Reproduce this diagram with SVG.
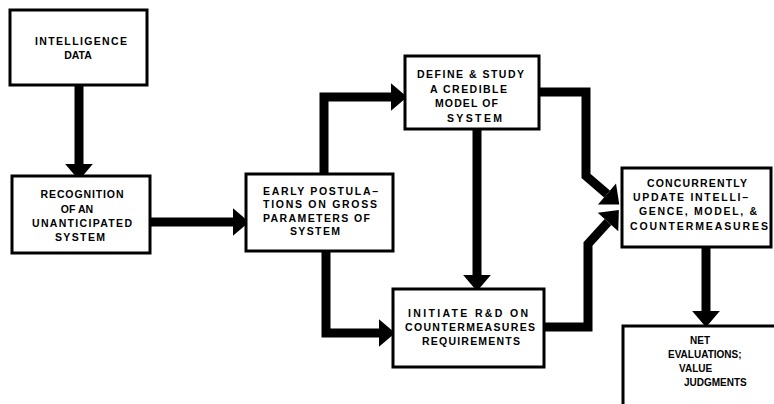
<svg xmlns="http://www.w3.org/2000/svg" width="774" height="404" viewBox="0 0 774 404">
<style>
.box{fill:#fff;stroke:#000;stroke-width:3}
.t{font-family:"Liberation Sans",Arial,sans-serif;font-weight:bold;font-size:10.5px;fill:#000}
.s{font-size:10px}
.c{text-anchor:middle}
.conn{fill:none;stroke:#000;stroke-width:9;stroke-linejoin:miter;stroke-linecap:butt}
</style>
<defs>
<marker id="ah" markerUnits="userSpaceOnUse" markerWidth="20" markerHeight="30" viewBox="0 -13 16 26" refX="0" refY="0" orient="auto">
<path d="M0,-12 L14,0 L0,12 Z" fill="#000"/>
</marker>
</defs>
<g id="connectors">
<path class="conn" d="M79,86 V164" marker-end="url(#ah)"/>
<path class="conn" d="M151,222 H233" marker-end="url(#ah)"/>
<path class="conn" d="M324,173 V97 H391" marker-end="url(#ah)"/>
<path class="conn" d="M326,252 V333 H379" marker-end="url(#ah)"/>
<path class="conn" d="M477,130 V275" marker-end="url(#ah)"/>
<path class="conn" d="M540,92 H586 V176 L607,194" marker-end="url(#ah)"/>
<path class="conn" d="M545,327 H588 V244 L608,222" marker-end="url(#ah)"/>
<path class="conn" d="M706,248 V311" marker-end="url(#ah)"/>
</g>
<g id="intelligence-data">
<rect class="box" x="10" y="10" width="137" height="75"/>
<text class="t c" x="81" y="45" textLength="92" lengthAdjust="spacing">INTELLIGENCE</text>
<text class="t c" x="78" y="59">DATA</text>
</g>
<g id="recognition">
<rect class="box" x="12" y="176" width="138" height="77"/>
<text class="t c" x="82" y="198" textLength="83" lengthAdjust="spacing">RECOGNITION</text>
<text class="t c" x="77" y="213">OF AN</text>
<text class="t c" x="82" y="227" textLength="100" lengthAdjust="spacing">UNANTICIPATED</text>
<text class="t c" x="80" y="241" textLength="50" lengthAdjust="spacing">SYSTEM</text>
</g>
<g id="early-postulations">
<rect class="box" x="246" y="174" width="147" height="77"/>
<text class="t" x="263" y="195" textLength="115" lengthAdjust="spacing">EARLY POSTULA–</text>
<text class="t" x="263" y="208" textLength="114" lengthAdjust="spacing">TIONS ON GROSS</text>
<text class="t" x="263" y="222" textLength="107" lengthAdjust="spacing">PARAMETERS OF</text>
<text class="t c" x="315" y="235" textLength="50" lengthAdjust="spacing">SYSTEM</text>
</g>
<g id="define-study">
<rect class="box" x="405" y="56" width="134" height="73"/>
<text class="t" x="417" y="78" textLength="107" lengthAdjust="spacing">DEFINE &amp; STUDY</text>
<text class="t" x="430" y="93" textLength="77" lengthAdjust="spacing">A CREDIBLE</text>
<text class="t" x="435" y="107" textLength="63" lengthAdjust="spacing">MODEL OF</text>
<text class="t" x="447" y="122" textLength="55" lengthAdjust="spacing">SYSTEM</text>
</g>
<g id="initiate-rd">
<rect class="box" x="393" y="289" width="151" height="78"/>
<text class="t" x="408" y="317" textLength="120" lengthAdjust="spacing">INITIATE R&amp;D ON</text>
<text class="t" x="405" y="331" textLength="130" lengthAdjust="spacing">COUNTERMEASURES</text>
<text class="t" x="422" y="345" textLength="98" lengthAdjust="spacing">REQUIREMENTS</text>
</g>
<g id="concurrently-update">
<rect class="box" x="622" y="168" width="149" height="79"/>
<text class="t" x="647" y="187" textLength="100" lengthAdjust="spacing">CONCURRENTLY</text>
<text class="t" x="633" y="201" textLength="115" lengthAdjust="spacing">UPDATE INTELLI–</text>
<text class="t" x="639" y="215" textLength="118" lengthAdjust="spacing">GENCE, MODEL, &amp;</text>
<text class="t" x="630" y="230" textLength="138" lengthAdjust="spacing">COUNTERMEASURES</text>
</g>
<g id="net-evaluations">
<rect class="box" x="623" y="326" width="170" height="100"/>
<text class="t s" x="690" y="344">NET</text>
<text class="t s" x="668" y="358">EVALUATIONS;</text>
<text class="t s" x="679" y="372">VALUE</text>
<text class="t s" x="684" y="386">JUDGMENTS</text>
</g>
</svg>
